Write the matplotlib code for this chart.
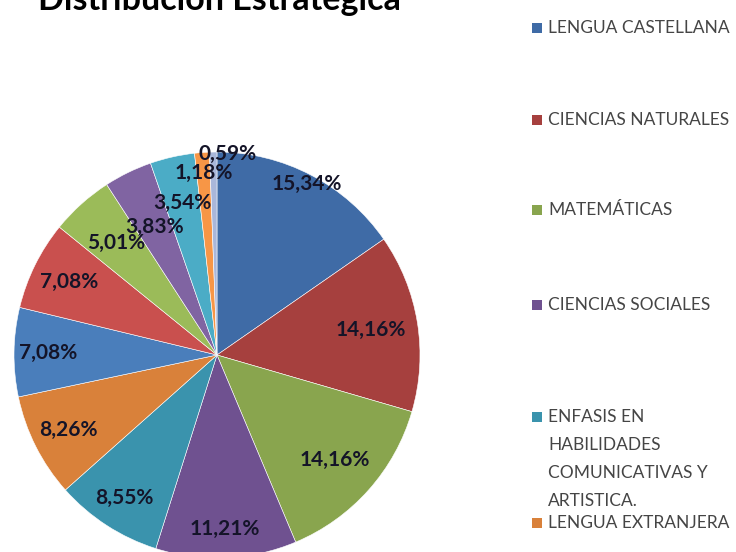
import numpy as np
import matplotlib
matplotlib.use('Agg')
import matplotlib.pyplot as plt
from matplotlib.patches import Rectangle

plt.rcParams['font.family'] = ['Lato', 'DejaVu Sans']

# datos (porcentajes, sentido horario desde arriba)
valores = [15.34, 14.16, 14.16, 11.21, 8.55, 8.26, 7.08, 7.08, 5.01, 3.83, 3.54, 1.18, 0.59]
etiquetas = ['15,34%', '14,16%', '14,16%', '11,21%', '8,55%', '8,26%', '7,08%',
             '7,08%', '5,01%', '3,83%', '3,54%', '1,18%', '0,59%']
leyenda = [['LENGUA CASTELLANA'], ['CIENCIAS NATURALES'], ['MATEMÁTICAS'],
           ['CIENCIAS SOCIALES'],
           ['ENFASIS EN', 'HABILIDADES', 'COMUNICATIVAS Y', 'ARTISTICA.'],
           ['LENGUA EXTRANJERA']]

colores = ['#3F6BA6', '#A6403E', '#89A54E', '#6F5190', '#3A93AD', '#D9813A',
           '#4A7EBB', '#C9504E', '#9BBB59', '#8064A2', '#4BACC6', '#F79646', '#A9B7DA']
# distancia radial y giro (grados) de cada etiqueta (colocación "mejor ajuste" de Excel)
dist_etiqueta = [0.95, 0.77, 0.78, 0.86, 0.84, 0.82, 0.83, 0.81, 0.74, 0.70, 0.77, 0.90, 0.99]
giro_etiqueta = [0, 0, 0, 0, 0, 0, 0, 0, 0, 0, 0, 0, -4]

W, H = 736, 552
fig = plt.figure(figsize=(W / 100, H / 100), dpi=100)
cx, cy, r = 217, 355, 203
ax = fig.add_axes([(cx - r) / W, 1 - (cy + r) / H, 2 * r / W, 2 * r / H])

wedges, _ = ax.pie(valores, colors=colores, startangle=90, counterclock=False,
                   radius=1, wedgeprops=dict(edgecolor='white', linewidth=0.4))
ax.set_xlim(-1, 1)
ax.set_ylim(-1, 1)
ax.axis('off')

for w, txt, d, g in zip(wedges, etiquetas, dist_etiqueta, giro_etiqueta):
    ang = np.deg2rad((w.theta1 + w.theta2) / 2 + g)
    ax.text(d * np.cos(ang), d * np.sin(ang), txt, ha='center', va='center',
            fontsize=15, fontweight='bold', color='#141428')

fig.text(219 / W, 1 - 10 / H, 'Distribución Estratégica', ha='center', va='baseline',
         fontsize=24.5, fontweight='bold', color='black')

# leyenda
ley_y = [28, 120, 210, 305, 417, 523]
paso = 28
for i, (lineas, yy) in enumerate(zip(leyenda, ley_y)):
    fig.patches.append(Rectangle((532 / W, 1 - (yy + 5) / H), 10 / W, 10 / H,
                                 transform=fig.transFigure, facecolor=colores[i],
                                 edgecolor='none'))
    for k, lab in enumerate(lineas):
        fig.text(548 / W, 1 - (yy + k * paso) / H, lab, ha='left', va='center',
                 fontsize=12.5, color='#454545')

fig.savefig('out.png', dpi=100)
